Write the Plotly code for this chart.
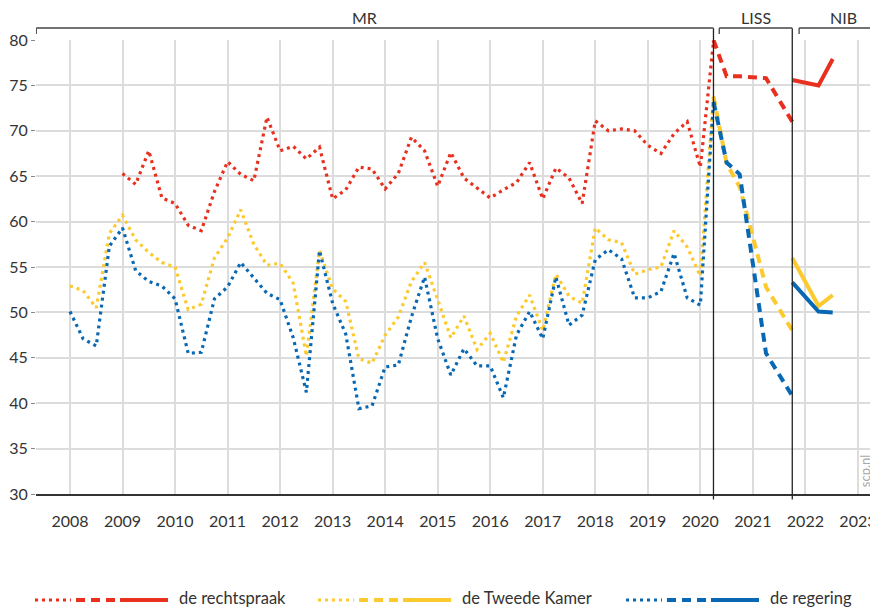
import plotly.graph_objects as go

# ---------------- data ----------------
# MR (quarterly, dotted)
mr_x = [2008.00, 2008.25, 2008.50, 2008.75,
        2009.00, 2009.25, 2009.50, 2009.75,
        2010.00, 2010.25, 2010.50, 2010.75,
        2011.00, 2011.25, 2011.50, 2011.75,
        2012.00, 2012.25, 2012.50, 2012.75,
        2013.00, 2013.25, 2013.50, 2013.75,
        2014.00, 2014.25, 2014.50, 2014.75,
        2015.00, 2015.25, 2015.50, 2015.75,
        2016.00, 2016.25, 2016.50, 2016.75,
        2017.00, 2017.25, 2017.50, 2017.75,
        2018.00, 2018.25, 2018.50, 2018.75,
        2019.00, 2019.25, 2019.50, 2019.75,
        2020.00, 2020.25]
mr_rechtspraak = [None, None, None, None,
                  65.3, 64.1, 67.8, 62.6,
                  62.0, 59.6, 59.0, 63.3,
                  66.6, 65.2, 64.5, 71.5,
                  67.8, 68.3, 66.9, 68.2,
                  62.5, 63.5, 66.0, 65.8,
                  63.6, 65.3, 69.3, 67.8,
                  63.9, 67.6, 64.8, 63.7,
                  62.6, 63.5, 64.3, 66.5,
                  62.5, 65.9, 64.8, 62.0,
                  71.1, 70.0, 70.2, 70.0,
                  68.4, 67.5, 69.7, 71.0,
                  66.0, 79.8]
mr_tweedekamer = [52.9, 52.4, 50.5, 58.7,
                  60.7, 58.0, 56.6, 55.5,
                  55.0, 50.3, 50.9, 56.0,
                  58.2, 61.3, 57.5, 55.2,
                  55.4, 53.2, 45.2, 56.8,
                  52.6, 51.2, 44.9, 44.4,
                  47.5, 49.5, 53.4, 55.5,
                  51.4, 47.2, 49.6, 45.9,
                  47.7, 44.5, 49.6, 51.9,
                  48.0, 54.2, 51.8, 51.0,
                  59.3, 58.0, 57.7, 54.2,
                  54.7, 55.0, 59.0, 57.2,
                  54.0, 73.8]
mr_regering = [50.1, 47.1, 46.3, 57.3,
               59.3, 54.6, 53.4, 52.9,
               51.5, 45.5, 45.6, 51.5,
               52.8, 55.5, 53.8, 52.1,
               51.4, 47.2, 41.2, 56.8,
               51.0, 47.6, 39.4, 39.7,
               44.0, 44.2, 49.5, 53.9,
               47.1, 43.1, 46.0, 44.1,
               44.1, 40.6, 47.5, 50.1,
               47.1, 53.9, 48.6, 49.7,
               55.8, 56.9, 55.9, 51.6,
               51.6, 52.3, 56.5, 51.6,
               50.8, 73.2]

# LISS (dashed)
liss_x = [2020.25, 2020.50, 2020.75, 2021.25, 2021.75]
liss_rechtspraak = [80.0, 76.0, 76.0, 75.8, 71.0]
liss_tweedekamer = [73.8, 66.4, 63.8, 52.8, 48.0]
liss_regering = [73.2, 66.5, 65.2, 45.5, 40.8]

# NIB (solid)
nib_x = [2021.75, 2022.25, 2022.52]
nib_rechtspraak = [75.6, 75.0, 77.9]
nib_tweedekamer = [56.0, 50.7, 51.9]
nib_regering = [53.3, 50.1, 50.0]

series_names = ["de rechtspraak", "de Tweede Kamer", "de regering"]
colors = ["#e8301f", "#fcc92e", "#0868b3"]

year_ticks = list(range(2008, 2024))
y_ticks = [30, 35, 40, 45, 50, 55, 60, 65, 70, 75, 80]

source_labels = ["MR", "LISS", "NIB"]
source_breaks = [2020.25, 2021.75]

# ---------------- figure ----------------
X0, X1 = 2007.353, 2023.382
FONT = "Lato, 'Open Sans', sans-serif"
TXT = "#333333"

fig = go.Figure()

mr_sets = [mr_rechtspraak, mr_tweedekamer, mr_regering]
liss_sets = [liss_rechtspraak, liss_tweedekamer, liss_regering]
nib_sets = [nib_rechtspraak, nib_tweedekamer, nib_regering]

DOT = "3px,4px"
DASH = "9px,6px"
for i in range(3):
    fig.add_trace(go.Scatter(x=mr_x, y=mr_sets[i], mode="lines", showlegend=False,
                             line=dict(color=colors[i], width=3.2, dash=DOT),
                             hoverinfo="x+y", name=series_names[i]))
for i in range(3):
    fig.add_trace(go.Scatter(x=liss_x, y=liss_sets[i], mode="lines", showlegend=False,
                             line=dict(color=colors[i], width=4, dash=DASH),
                             hoverinfo="x+y", name=series_names[i]))
for i in range(3):
    fig.add_trace(go.Scatter(x=nib_x, y=nib_sets[i], mode="lines", showlegend=False,
                             line=dict(color=colors[i], width=4),
                             hoverinfo="x+y", name=series_names[i]))

shapes = []
# vertical separators between sources
for b in source_breaks:
    shapes.append(dict(type="line", xref="x", yref="paper", x0=b, x1=b,
                       y0=-0.012, y1=1.026, line=dict(color="#222222", width=1.3),
                       layer="above"))

# brackets at top
BY = 1.0264
BT = 1.0132
brk = [(X0 + 0.005, source_breaks[0]), (source_breaks[0] + 0.11, source_breaks[1]),
       (source_breaks[1] + 0.13, X1)]
for k, (a, b) in enumerate(brk):
    shapes.append(dict(type="line", xref="x", yref="paper", x0=a, x1=b, y0=BY, y1=BY,
                       line=dict(color="#444444", width=1.3)))
    shapes.append(dict(type="line", xref="x", yref="paper", x0=a, x1=a, y0=BT, y1=BY,
                       line=dict(color="#444444", width=1.3)))

annotations = []
label_x = [2013.6, 2021.05, 2022.73]
for lab, lx in zip(source_labels, label_x):
    annotations.append(dict(x=lx, y=1.05, xref="x", yref="paper", text=lab,
                            showarrow=False, font=dict(family=FONT, size=16, color=TXT),
                            xanchor="center", yanchor="middle"))

annotations.append(dict(x=2023.15, y=32.6, xref="x", yref="y", text="scp.nl",
                        textangle=-90, showarrow=False,
                        font=dict(family=FONT, size=13, color="#a8a8a8"),
                        xanchor="center", yanchor="middle"))

# manual legend (dotted + dashed + solid sample)
W = 842.0
def px(v):
    return (v - 36) / W
LY = (494 - 600) / 454.0
TY = (494 - 598) / 454.0
leg_start = [35, 318, 626]
for i in range(3):
    s = leg_start[i]
    shapes.append(dict(type="line", xref="paper", yref="paper", x0=px(s), x1=px(s + 36),
                       y0=LY, y1=LY, line=dict(color=colors[i], width=3.2, dash=DOT)))
    shapes.append(dict(type="line", xref="paper", yref="paper", x0=px(s + 41), x1=px(s + 80),
                       y0=LY, y1=LY, line=dict(color=colors[i], width=4, dash=DASH)))
    shapes.append(dict(type="line", xref="paper", yref="paper", x0=px(s + 85), x1=px(s + 133),
                       y0=LY, y1=LY, line=dict(color=colors[i], width=4)))
    annotations.append(dict(x=px(s + 142), y=TY, xref="paper", yref="paper",
                            text=series_names[i], showarrow=False,
                            xanchor="left", yanchor="middle",
                            font=dict(family=FONT, size=16.5, color=TXT)))

# the page body has an 8px margin, so the figure is 8px smaller and margins shifted
fig.update_layout(
    width=870, height=601,
    margin=dict(l=28, r=0, t=32, b=115),
    paper_bgcolor="white", plot_bgcolor="white",
    font=dict(family=FONT, color=TXT),
    shapes=shapes, annotations=annotations,
    showlegend=False,
)
fig.update_xaxes(range=[X0, X1], tickmode="array", tickvals=year_ticks,
                 ticktext=[str(y) for y in year_ticks],
                 showgrid=True, gridcolor="#dcdcdc", gridwidth=1.5,
                 zeroline=False, showline=True, linecolor="#333333", linewidth=2,
                 ticks="", ticklabelstandoff=12,
                 tickfont=dict(family=FONT, size=16, color=TXT))
fig.update_yaxes(range=[30, 80], tickmode="array", tickvals=y_ticks,
                 showgrid=True, gridcolor="#dcdcdc", gridwidth=1.5,
                 zeroline=False, showline=False,
                 ticks="outside", ticklen=4, tickcolor="#888888",
                 tickfont=dict(family=FONT, size=16, color=TXT))

fig.write_html("out.html")
